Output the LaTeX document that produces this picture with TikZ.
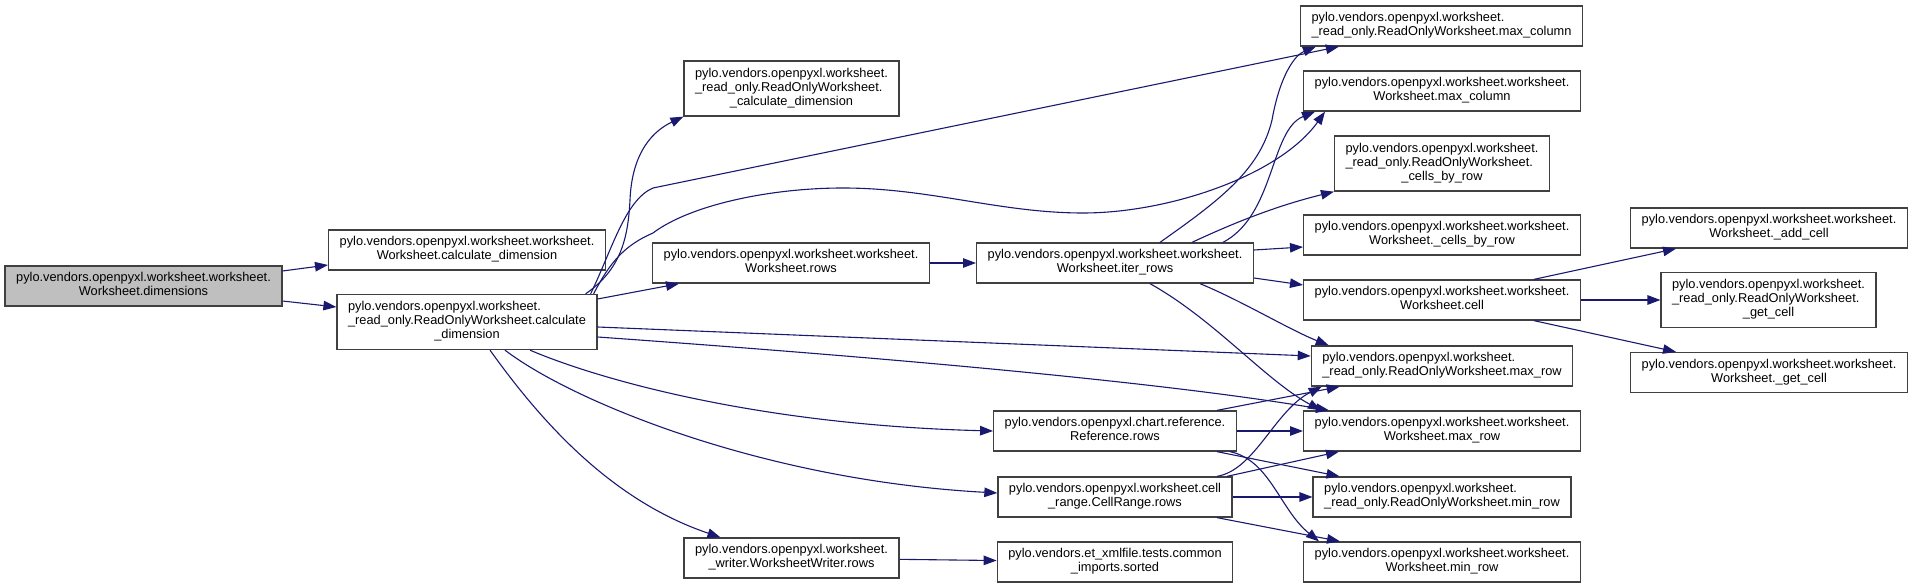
\documentclass[tikz,border=0pt]{standalone}
\usepackage{fontspec}
\setmainfont{Liberation Sans}
\usepackage{tikz}
\usetikzlibrary{arrows.meta}

\definecolor{midnight}{HTML}{191970}
\definecolor{boxline}{HTML}{404040}
\definecolor{rootgray}{HTML}{BFBFBF}

% righe allineate a sinistra, ultima riga centrata
\newcommand{\lbl}[2]{\begin{tabular}{@{}l@{}}#1\\\multicolumn{1}{@{}c@{}}{#2}\end{tabular}}

\begin{document}
\begin{tikzpicture}[x=1pt, y=-1pt, >={Triangle[length=13pt,width=9.5pt]}] % coordinate in pixel
    % Stili per funzioni e chiamate
    \tikzset{
        fn/.style={
            draw=boxline,
            line width=1.3pt,
            fill=white,
            inner xsep=11pt,
            inner ysep=0pt,
            minimum height=40pt,
            font=\fontsize{12.8}{14}\selectfont
        },
        fn3/.style={fn, minimum height=55pt},
        link/.style={->, draw=midnight, line width=1.1pt}
    }

    \useasboundingbox (0,0) rectangle (1912,588);

    % --- Colonna 1: funzione di partenza ---
    \node[fn, fill=rootgray] (dims) at (143.5,286) {\lbl{pylo.vendors.openpyxl.worksheet.worksheet.}{Worksheet.dimensions}};

    % --- Colonna 2 ---
    \node[fn] (wscalc) at (467,250) {\lbl{pylo.vendors.openpyxl.worksheet.worksheet.}{Worksheet.calculate\_dimension}};
    \node[fn3] (rocalc) at (467,322) {\lbl{pylo.vendors.openpyxl.worksheet.\\\_read\_only.ReadOnlyWorksheet.calculate}{\_dimension}};

    % --- Colonna 3 ---
    \node[fn3] (rocalcpriv) at (791.5,88.5) {\lbl{pylo.vendors.openpyxl.worksheet.\\\_read\_only.ReadOnlyWorksheet.}{\_calculate\_dimension}};
    \node[fn] (wsrows) at (791,263) {\lbl{pylo.vendors.openpyxl.worksheet.worksheet.}{Worksheet.rows}};
    \node[fn] (wwrows) at (791.5,558) {\lbl{pylo.vendors.openpyxl.worksheet.}{\_writer.WorksheetWriter.rows}};

    % --- Colonna 4 ---
    \node[fn] (iterrows) at (1115,263) {\lbl{pylo.vendors.openpyxl.worksheet.worksheet.}{Worksheet.iter\_rows}};
    \node[fn] (refrows) at (1115,431) {\lbl{pylo.vendors.openpyxl.chart.reference.}{Reference.rows}};
    \node[fn] (crrows) at (1115,497) {\lbl{pylo.vendors.openpyxl.worksheet.cell}{\_range.CellRange.rows}};
    \node[fn] (sorted) at (1115,562) {\lbl{pylo.vendors.et\_xmlfile.tests.common}{\_imports.sorted}};

    % --- Colonna 5 ---
    \node[fn] (romaxcol) at (1441.5,26) {\lbl{pylo.vendors.openpyxl.worksheet.}{\_read\_only.ReadOnlyWorksheet.max\_column}};
    \node[fn] (wsmaxcol) at (1442,91) {\lbl{pylo.vendors.openpyxl.worksheet.worksheet.}{Worksheet.max\_column}};
    \node[fn3] (rocellsbyrow) at (1442,163.5) {\lbl{pylo.vendors.openpyxl.worksheet.\\\_read\_only.ReadOnlyWorksheet.}{\_cells\_by\_row}};
    \node[fn] (wscellsbyrow) at (1442,235) {\lbl{pylo.vendors.openpyxl.worksheet.worksheet.}{Worksheet.\_cells\_by\_row}};
    \node[fn] (wscell) at (1442,300) {\lbl{pylo.vendors.openpyxl.worksheet.worksheet.}{Worksheet.cell}};
    \node[fn] (romaxrow) at (1442,366) {\lbl{pylo.vendors.openpyxl.worksheet.}{\_read\_only.ReadOnlyWorksheet.max\_row}};
    \node[fn] (wsmaxrow) at (1442,431) {\lbl{pylo.vendors.openpyxl.worksheet.worksheet.}{Worksheet.max\_row}};
    \node[fn] (rominrow) at (1442,497) {\lbl{pylo.vendors.openpyxl.worksheet.}{\_read\_only.ReadOnlyWorksheet.min\_row}};
    \node[fn] (wsminrow) at (1442,562) {\lbl{pylo.vendors.openpyxl.worksheet.worksheet.}{Worksheet.min\_row}};

    % --- Colonna 6 ---
    \node[fn] (addcell) at (1769,228) {\lbl{pylo.vendors.openpyxl.worksheet.worksheet.}{Worksheet.\_add\_cell}};
    \node[fn3] (rogetcell) at (1768.5,300) {\lbl{pylo.vendors.openpyxl.worksheet.\\\_read\_only.ReadOnlyWorksheet.}{\_get\_cell}};
    \node[fn] (wsgetcell) at (1769,372.5) {\lbl{pylo.vendors.openpyxl.worksheet.worksheet.}{Worksheet.\_get\_cell}};

    % --- Chiamate da dimensions ---
    \draw[link] ([yshift=15pt]dims.east) -- ([yshift=-15pt]wscalc.west);
    \draw[link] ([yshift=-15pt]dims.east) -- ([yshift=15pt]rocalc.west);

    % --- Chiamate da ReadOnlyWorksheet.calculate_dimension ---
    \draw[link] ([xshift=-12pt]rocalc.north east) .. controls (620,270) and (628,240) .. (630,200)
        .. controls (632,150) and (655,130) .. (rocalcpriv.south west);
    \draw[link] ([xshift=-7pt]rocalc.north east) .. controls (612,250) and (625,200) .. (653,188)
        -- ([xshift=39pt]romaxcol.south west);
    \draw[link] ([xshift=-4pt]rocalc.north east) .. controls (610,262) and (625,245) .. (653,233)
        .. controls (690,205) and (770,188) .. (843,188)
        .. controls (930,188) and (1000,213) .. (1083,213)
        .. controls (1170,213) and (1280,175) .. ([xshift=22pt]wsmaxcol.south west);
    \draw[link] ([yshift=23pt]rocalc.east) -- ([xshift=27pt]wsrows.south west);
    \draw[link] ([yshift=-5pt]rocalc.east) -- ([yshift=10pt]romaxrow.west);
    \draw[link] ([yshift=-15pt]rocalc.east) .. controls (850,355) and (1150,380) .. ([xshift=26pt]wsmaxrow.north west);
    \draw[link] ([xshift=63pt]rocalc.south) .. controls (600,380) and (760,425) .. (refrows.west);
    \draw[link] ([xshift=38pt]rocalc.south) .. controls (570,400) and (760,480) .. ([yshift=4pt]crrows.west);
    \draw[link] ([xshift=23pt]rocalc.south) .. controls (540,420) and (610,500) .. ([xshift=37pt]wwrows.north west);

    % --- Chiamate da rows e iter_rows ---
    \draw[link] (wsrows) -- (iterrows);
    \draw[link] ([xshift=45pt]iterrows.north) .. controls (1220,200) and (1260,170) .. (1272,120)
        .. controls (1280,75) and (1295,55) .. ([xshift=16pt]romaxcol.south west);
    \draw[link] ([xshift=-31pt]iterrows.north east) .. controls (1275,215) and (1270,130) .. ([xshift=12pt]wsmaxcol.south west);
    \draw[link] ([xshift=77pt]iterrows.north) .. controls (1240,220) and (1280,205) .. (rocellsbyrow.south west);
    \draw[link] ([yshift=13pt]iterrows.east) -- ([yshift=-12pt]wscellsbyrow.west);
    \draw[link] ([yshift=-15pt]iterrows.east) -- ([yshift=15pt]wscell.west);
    \draw[link] ([xshift=85pt]iterrows.south) .. controls (1240,300) and (1290,330) .. ([xshift=18pt]romaxrow.north west);
    \draw[link] ([xshift=35pt]iterrows.south) .. controls (1215,320) and (1265,380) .. ([xshift=18pt]wsmaxrow.north west);

    % --- Chiamate da cell ---
    \draw[link] ([xshift=92pt]wscell.north) -- ([xshift=46pt]addcell.south west);
    \draw[link] (wscell) -- (rogetcell);
    \draw[link] ([xshift=92pt]wscell.south) -- ([xshift=46pt]wsgetcell.north west);

    % --- Chiamate da Reference.rows ---
    \draw[link] ([xshift=102pt]refrows.north) -- ([xshift=29pt]romaxrow.south west);
    \draw[link] (refrows) -- (wsmaxrow);
    \draw[link] ([xshift=102pt]refrows.south) -- ([xshift=27pt]rominrow.north west);
    \draw[link] ([xshift=115pt]refrows.south) .. controls (1270,460) and (1280,510) .. ([xshift=16pt]wsminrow.north west);

    % --- Chiamate da CellRange.rows ---
    \draw[link] ([xshift=102pt]crrows.north) .. controls (1255,470) and (1275,410) .. ([xshift=11pt]romaxrow.south west);
    \draw[link] ([xshift=112pt]crrows.north) -- ([xshift=36pt]wsmaxrow.south west);
    \draw[link] (crrows) -- (rominrow);
    \draw[link] ([xshift=102pt]crrows.south) -- ([xshift=37pt]wsminrow.north west);

    % --- Chiamata da WorksheetWriter.rows ---
    \draw[link] (wwrows) -- (sorted);

\end{tikzpicture}
\end{document}
